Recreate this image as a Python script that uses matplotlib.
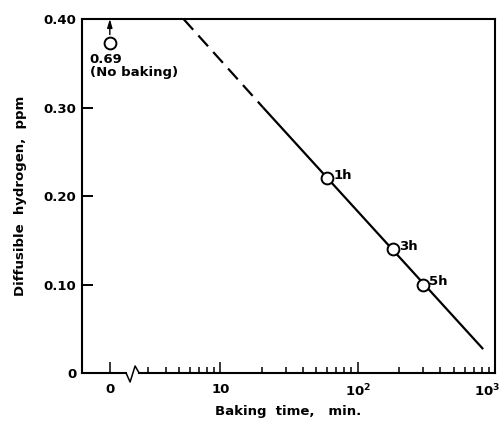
import matplotlib
matplotlib.use("Agg")
import matplotlib.pyplot as plt
import matplotlib.transforms as mtransforms

# data
point_t = [60, 180, 300]          # baking time, min
point_h = [0.22, 0.14, 0.10]      # diffusible hydrogen, ppm
point_labels = ["1h", "3h", "5h"]

dashed_t = [5.4, 20.5]
dashed_h = [0.40, 0.30]
solid_t = [20.5, 820]
solid_h = [0.30, 0.027]

nobake_h = 0.373                  # drawn below the top (real value 0.69)
nobake_text = "0.69\n(No baking)"

zero_pos = 1.57                   # where "0 min" sits on the log axis
break_pos = 2.3                   # axis break between 0 and 10
x_major = [zero_pos, 10, 100, 1000]
x_major_labels = ["0", "10", "10$^2$", "10$^3$"]
x_minor = [3, 4, 5, 6, 7, 8, 9] + [20, 30, 40, 50, 60, 70, 80, 90] + \
          [200, 300, 400, 500, 600, 700, 800, 900]
y_ticks = [0, 0.10, 0.20, 0.30, 0.40]
y_tick_labels = ["0", "0.10", "0.20", "0.30", "0.40"]

plt.rcParams["font.family"] = ["DejaVu Sans"]
plt.rcParams["font.weight"] = "bold"
plt.rcParams["mathtext.default"] = "bf"
FS = 9.5

fig = plt.figure(figsize=(5.04, 4.25), dpi=100)
ax = fig.add_axes([82 / 504, 52 / 425, 413 / 504, 354 / 425])
ax.set_xscale("log")
ax.set_xlim(0.985, 1000)
ax.set_ylim(0, 0.40)

# lines
ax.plot(dashed_t, dashed_h, color="black", lw=1.6, linestyle=(0, (6.5, 3.5)),
        dash_capstyle="butt")
ax.plot(solid_t, solid_h, color="black", lw=1.6, solid_capstyle="butt")
ax.plot(point_t, point_h, "o", ms=8.5, mfc="white", mec="black", mew=1.4, zorder=5)
for t, h, lab in zip(point_t, point_h, point_labels):
    ax.annotate(lab, (t, h), xytext=(4.5, 2), textcoords="offset points",
                ha="left", va="center", fontsize=FS, fontweight="bold")

# no-baking point with arrow to the top
ax.plot([zero_pos], [nobake_h], "o", ms=8.5, mfc="white", mec="black", mew=1.4,
        zorder=5, clip_on=False)
ax.annotate("", xy=(zero_pos, 0.40), xytext=(zero_pos, nobake_h),
            arrowprops=dict(arrowstyle="-|>,head_length=0.5,head_width=0.15",
                            color="black", lw=1.0, shrinkA=6, shrinkB=0))
ax.text(1.12, nobake_h - 0.011, nobake_text, ha="left", va="top",
        fontsize=FS, fontweight="bold", linespacing=1.0)

# ticks
ax.set_xticks(x_major)
ax.set_xticklabels(x_major_labels)
ax.set_xticks(x_minor, minor=True)
ax.xaxis.set_minor_formatter(plt.NullFormatter())
ax.set_yticks(y_ticks)
ax.set_yticklabels(y_tick_labels)
ax.tick_params(axis="x", which="major", direction="in", length=8, width=1.1,
               pad=7, labelsize=FS)
ax.tick_params(axis="x", which="minor", direction="in", length=4.5, width=1.1)
ax.tick_params(axis="y", which="major", direction="in", length=8, width=1.4,
               pad=4, labelsize=FS)
ax.tick_params(axis="y", which="minor", left=False)
for lab in ax.get_xticklabels() + ax.get_yticklabels():
    lab.set_fontweight("bold")
# last label sits on the right edge; nudge it in so it stays in the picture
last = ax.get_xticklabels()[-1]
last.set_transform(last.get_transform() +
                   mtransforms.ScaledTranslation(-6 / 72, 0, fig.dpi_scale_trans))

for side in ["left", "top", "right"]:
    ax.spines[side].set_linewidth(1.5)
ax.spines["bottom"].set_visible(False)

# bottom axis drawn in two parts with a zigzag break
trans = mtransforms.blended_transform_factory(ax.transData, ax.transAxes)
dec_px = 1 / 137.0
zx = [break_pos * 10 ** (d * dec_px) for d in (-6.5, -2.5, 2.5, 6.5)]
zy = [d / 354.0 for d in (0, -9, 7, 0)]
ax.plot([ax.get_xlim()[0], zx[0]], [0, 0], color="black", lw=1.5,
        transform=trans, clip_on=False, solid_capstyle="projecting")
ax.plot(zx, zy, color="black", lw=1.1, transform=trans, clip_on=False)
ax.plot([zx[-1], ax.get_xlim()[1]], [0, 0], color="black", lw=1.5,
        transform=trans, clip_on=False, solid_capstyle="projecting")

ax.set_xlabel("Baking  time,   min.", fontsize=FS, fontweight="bold", labelpad=4)
ax.set_ylabel("Diffusible  hydrogen,  ppm", fontsize=FS, fontweight="bold",
              labelpad=12)

fig.savefig("out.png", dpi=100)
